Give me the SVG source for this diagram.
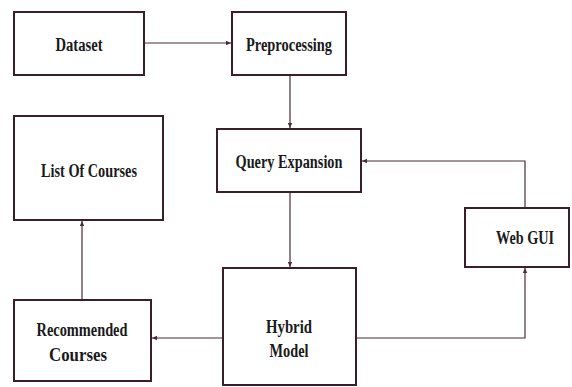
<svg xmlns="http://www.w3.org/2000/svg" width="572" height="387" viewBox="0 0 572 387">
<style>
.box{fill:#fff;stroke:#3b1e2c;stroke-width:2}
.lbl{font-family:"Liberation Serif",serif;font-weight:bold;font-size:18px;fill:#1a1a1a;text-anchor:middle}
.con{fill:none;stroke:#4a2d3b;stroke-width:1.2}
</style>
<defs>
<marker id="ah" markerWidth="6" markerHeight="6" refX="5" refY="3" orient="auto" markerUnits="userSpaceOnUse">
<path d="M0,0.8 L5,3 L0,5.2 Z" fill="#4a2d3b"/>
</marker>
</defs>
<rect width="572" height="387" fill="#fff"/>
<g id="connectors">
<line class="con" x1="144" y1="43" x2="231" y2="43" marker-end="url(#ah)"/>
<line class="con" x1="290" y1="75" x2="290" y2="128" marker-end="url(#ah)"/>
<polyline class="con" points="525,208 525,161 362,161" marker-end="url(#ah)"/>
<line class="con" x1="290" y1="192" x2="290" y2="267" marker-end="url(#ah)"/>
<line class="con" x1="222" y1="338" x2="152" y2="338" marker-end="url(#ah)"/>
<polyline class="con" points="356,338 525,338 525,268" marker-end="url(#ah)"/>
<line class="con" x1="82" y1="300" x2="82" y2="221" marker-end="url(#ah)"/>
</g>
<g id="dataset">
<rect class="box" x="14" y="12" width="130" height="63"/>
<text class="lbl" x="79" y="51" textLength="47" lengthAdjust="spacingAndGlyphs">Dataset</text>
</g>
<g id="preprocessing">
<rect class="box" x="232" y="12" width="114" height="63"/>
<text class="lbl" x="289" y="51" textLength="86" lengthAdjust="spacingAndGlyphs">Preprocessing</text>
</g>
<g id="list-of-courses">
<rect class="box" x="14" y="116" width="149" height="104"/>
<text class="lbl" x="89" y="177" textLength="96" lengthAdjust="spacingAndGlyphs">List Of Courses</text>
</g>
<g id="query-expansion">
<rect class="box" x="217" y="129" width="144" height="63"/>
<text class="lbl" x="289" y="168" textLength="107" lengthAdjust="spacingAndGlyphs">Query Expansion</text>
</g>
<g id="web-gui">
<rect class="box" x="465" y="208" width="104" height="59"/>
<text class="lbl" x="525" y="244" textLength="58" lengthAdjust="spacingAndGlyphs">Web GUI</text>
</g>
<g id="hybrid-model">
<rect class="box" x="223" y="268" width="133" height="117"/>
<text class="lbl" x="289" y="333" textLength="46" lengthAdjust="spacingAndGlyphs">Hybrid</text>
<text class="lbl" x="289" y="357" textLength="39" lengthAdjust="spacingAndGlyphs">Model</text>
</g>
<g id="recommended-courses">
<rect class="box" x="14" y="300" width="137" height="81"/>
<text class="lbl" x="82" y="336" textLength="91" lengthAdjust="spacingAndGlyphs">Recommended</text>
<text class="lbl" x="78" y="361" textLength="58" lengthAdjust="spacingAndGlyphs">Courses</text>
</g>
</svg>
